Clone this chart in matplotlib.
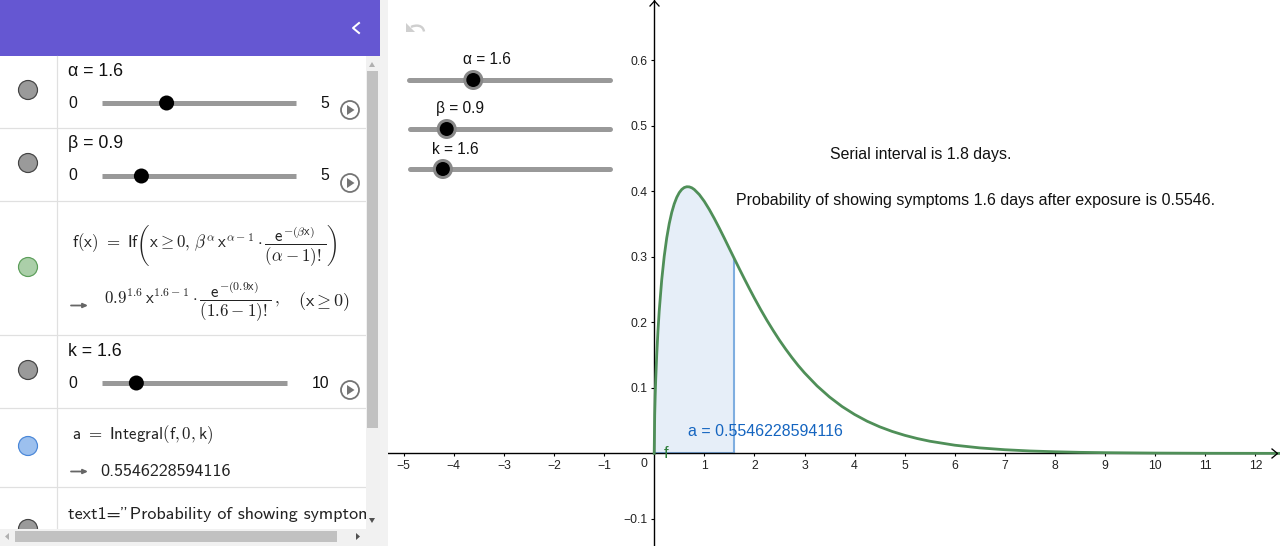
import matplotlib
matplotlib.use("Agg")
import matplotlib.pyplot as plt
from matplotlib.patches import Circle, Polygon, Rectangle, PathPatch
from matplotlib.path import Path

plt.rcParams['font.family'] = ['Liberation Sans', 'DejaVu Sans']
plt.rcParams['mathtext.fontset'] = 'cm'

# ---- data ----
curve_x = [0, .01, .02, .03, .05, .075, .1, .15, .2, .25, .3, .35, .4, .45, .5, .55, .6, .65, .7, .75, .8, .9, 1,
           1.1, 1.2, 1.3, 1.4, 1.5, 1.6, 1.7, 1.8, 1.9, 2, 2.125, 2.25, 2.375, 2.5, 2.625, 2.75, 2.875, 3,
           3.25, 3.5, 3.75, 4, 4.25, 4.5, 4.75, 5, 5.25, 5.5, 6, 6.5, 7, 7.5, 8, 8.5, 9, 10, 11, 12, 12.5]
curve_y = [0, .0591, .0888, .1123, .1498, .1868, .2171, .2647, .3007, .3287, .3505, .3676, .3807, .3906, .3978,
           .4027, .4056, .4068, .4066, .4052, .4026, .3949, .3845, .3721, .3583, .3436, .3283, .3126, .2970,
           .2815, .2663, .2514, .2369, .2195, .2030, .1875, .1727, .1590, .1461, .1340, .1229, .1030, .0860,
           .0715, .0594, .0491, .0406, .0335, .0276, .0227, .0186, .0125, .0084, .0056, .0037, .0025, .0016,
           .0011, .0005, .0002, .0001, .00005]
area_x = curve_x[:29]
area_y = curve_y[:29]
x_ticks = [-5, -4, -3, -2, -1, 1, 2, 3, 4, 5, 6, 7, 8, 9, 10, 11, 12]
y_ticks = [-0.1, 0.1, 0.2, 0.3, 0.4, 0.5, 0.6]
alpha_val, beta_val, k_val = 1.6, 0.9, 1.6
alpha_max, beta_max, k_max = 5, 5, 10
note_serial = "Serial interval is 1.8 days."
note_prob = "Probability of showing symptoms 1.6 days after exposure is 0.5546."
area_label = "a = 0.5546228594116"
integral_value = "0.5546228594116"
text_row = 'text1="Probability of showing symptoms'

W, H = 1280, 546
fig = plt.figure(figsize=(W / 100, H / 100), dpi=100, facecolor='white')

# ---- graphics view ----
X0, UX, Y0, UY = 654.2, 50.1, 453.4, 655.5
LEFT = 388
ax = fig.add_axes([LEFT / W, 0, (W - LEFT) / W, 1])
ax.set_xlim((LEFT - X0) / UX, (W - X0) / UX)
ax.set_ylim((Y0 - H) / UY, Y0 / UY)
for s in ('top', 'right'):
    ax.spines[s].set_visible(False)
for s in ('left', 'bottom'):
    ax.spines[s].set_position(('data', 0))
    ax.spines[s].set_linewidth(1.0)
ax.set_xticks(x_ticks)
ax.set_xticklabels([str(v).replace('-', '\u2212') for v in x_ticks])
ax.set_yticks(y_ticks)
ax.set_yticklabels([f'{v:.1f}'.replace('-', '\u2212') for v in y_ticks])
ax.tick_params(length=2.5, width=0.8, labelsize=8.8, labelcolor='#222222', pad=2.5)
ax.fill_between(area_x, area_y, 0, color='#E6EEF8', lw=0, zorder=1)
ax.plot(area_x[-1:] * 2, [0, area_y[-1]], color='#7FAEE0', lw=1.5, zorder=2)
ax.plot(area_x, [0] * len(area_x), color='#7FAEE0', lw=1.5, zorder=2)
ax.plot(curve_x, curve_y, color='#4F8F58', lw=2.0, zorder=3, solid_joinstyle='round')
ax.text(0.68, 0.033, area_label, color='#1565C0', fontsize=11.5, va='center', ha='left', zorder=4)
ax.text(0.2, -0.0005, 'f', color='#2E7D3A', fontsize=12, va='center', ha='left', zorder=4)
ax.text(3.5, 0.4555, note_serial, fontsize=11.45, va='center', ha='left', color='#111111')
ax.text(1.63, 0.3855, note_prob, fontsize=11.54, va='center', ha='left', color='#111111')
ax.text(-0.13, -0.0165, '0', fontsize=8.8, color='#222222', ha='right', va='center')

# ---- pixel overlay for the surrounding interface ----
ui = fig.add_axes([0, 0, 1, 1], facecolor='none')
ui.set_xlim(0, W)
ui.set_ylim(H, 0)
ui.axis('off')

def px(v):
    return v * 0.72

# axis arrows
ui.plot([650, 654.5, 659], [6, 1, 6], color='black', lw=px(1.3), clip_on=False)
ui.plot([1272, 1277.5, 1272], [449, 453.5, 458], color='black', lw=px(1.3))

def g_slider(y, x0, x1, kx0, kx1, frac, label, lx, ly):
    ui.plot([x0, x1], [y, y], color='#999999', lw=px(5), solid_capstyle='round', zorder=5)
    kx = kx0 + (kx1 - kx0) * frac
    ui.add_patch(Circle((kx, y), 10, fc='#888888', ec='none', zorder=6))
    ui.add_patch(Circle((kx, y), 7, fc='black', ec='none', zorder=7))
    ui.text(lx, ly, label, fontsize=11.2, ha='center', va='center', color='#111111', zorder=7)

g_slider(80, 409, 609.5, 412.5, 602.5, alpha_val / alpha_max, f'\u03b1 = {alpha_val}', 487, 59)
g_slider(129, 410, 610, 412.5, 602.5, beta_val / beta_max, f'\u03b2 = {beta_val}', 460, 108.5)
g_slider(169, 410, 610, 412.5, 602.5, k_val / k_max, f'k = {k_val}', 455, 149)

# undo icon
undo = Path([(424, 31.5), (423, 25), (416, 24.5), (411, 27)],
            [Path.MOVETO, Path.CURVE4, Path.CURVE4, Path.CURVE4])
ui.add_patch(PathPatch(undo, fc='none', ec='#CFCFCF', lw=px(2.4), zorder=5))
ui.add_patch(Polygon([(406, 23), (406, 32), (415, 32)], fc='#CFCFCF', ec='none', zorder=5))

# sidebar background
ui.add_patch(Rectangle((0, 0), 380, H, fc='white', ec='none', zorder=10))
ui.add_patch(Rectangle((380, 0), 8, H, fc='#F2F2F2', ec='none', zorder=10))
ui.add_patch(Rectangle((0, 0), 380, 56, fc='#6557D2', ec='none', zorder=11))
ui.plot([359, 353, 359], [23, 28, 33], color='white', lw=px(2.0), zorder=12)

for y in [128, 201, 335, 408, 487]:
    ui.plot([0, 366], [y, y], color='#E0E0E0', lw=px(1.2), zorder=11)
ui.plot([56.5, 56.5], [56, 529], color='#E0E0E0', lw=px(1.2), zorder=11)

# visibility markers
for y, fc, ec in [(90, '#9A9A9A', '#444444'), (163, '#9A9A9A', '#444444'),
                  (267, '#ABCFA9', '#5C9E5A'), (370, '#9A9A9A', '#444444'),
                  (446, '#9CC0EE', '#4A87D8'), (529, '#9A9A9A', '#444444')]:
    ui.add_patch(Circle((28, y), 9.5, fc=fc, ec=ec, lw=px(1.2), zorder=12))

def p_slider(y, x0, x1, kx0, kx1, frac, label, top, hi, play_y):
    ui.text(68, y - 32, label, fontsize=12.8, ha='left', va='center', color='#111111', zorder=13)
    ui.text(68, y, '0', fontsize=11.3, ha='left', va='center', color='#111111', zorder=13)
    ui.text(top, y, str(hi), fontsize=11.3, ha='center', va='center', color='#111111', zorder=13)
    ui.plot([x0, x1], [y, y], color='#999999', lw=px(5), solid_capstyle='butt', zorder=12)
    ui.add_patch(Circle((kx0 + (kx1 - kx0) * frac, y), 7.5, fc='black', ec='none', zorder=13))
    ui.add_patch(Circle((350, play_y), 9, fc='white', ec='#757575', lw=px(1.8), zorder=13))
    ui.add_patch(Polygon([(347, play_y - 5), (347, play_y + 5), (354.5, play_y)],
                         fc='#757575', ec='none', zorder=14))

p_slider(103, 102, 296, 109, 289, alpha_val / alpha_max, f'\u03b1 = {alpha_val}', 325, alpha_max, 110)
p_slider(176, 102, 296, 109, 289, beta_val / beta_max, f'\u03b2 = {beta_val}', 325, beta_max, 183)
p_slider(383, 102, 287, 109, 280, k_val / k_max, f'k = {k_val}', 321, k_max, 390)

# formula rows
formula1 = (r'$\mathsf{f(x)}\ =\ \mathsf{If}\left(\mathsf{x}\geq 0,\,\beta^{\alpha}\,\mathsf{x}^{\alpha-1}'
            r'\cdot\dfrac{\mathsf{e}^{-(\beta\mathsf{x})}}{(\alpha-1)!}\right)$')
formula2 = (r'$0.9^{1.6}\,\mathsf{x}^{1.6-1}\cdot\dfrac{\mathsf{e}^{-(0.9\mathsf{x})}}{(1.6-1)!}\,,$')
ui.text(72, 245, formula1, fontsize=12.2, ha='left', va='center', color='#222222', zorder=13)
ui.text(104, 302, formula2, fontsize=12.2, ha='left', va='center', color='#222222', zorder=13)
ui.text(298, 302, r'$(\mathsf{x}\geq 0)$', fontsize=13, ha='left', va='center', color='#222222', zorder=13)
ui.text(72, 435, r'$\mathsf{a}\ =\ \mathsf{Integral(f,0,k)}$', fontsize=12.2, ha='left', va='center',
        color='#222222', zorder=13)
ui.text(100, 471, integral_value, family='cmss10', fontsize=13, ha='left', va='center',
        color='#222222', zorder=13)
for y in [305.5, 471.5]:
    ui.annotate('', xy=(88, y), xytext=(71, y), zorder=13,
                arrowprops=dict(arrowstyle='-|>,head_width=0.13,head_length=0.28', color='#666666', lw=1.3,
                                shrinkA=0, shrinkB=0))
t = ui.text(68, 513, text_row, family='cmss10', fontsize=13, ha='left', va='center_baseline',
            color='#222222', zorder=13)
t.set_clip_path(Rectangle((0, 490), 366, 40, transform=ui.transData))
t.set_clip_on(True)

# scrollbars
ui.add_patch(Rectangle((366, 56), 14, 473, fc='#F1F1F1', ec='none', zorder=15))
ui.add_patch(Rectangle((367, 71), 11, 357, fc='#C1C1C1', ec='none', zorder=16))
ui.add_patch(Polygon([(369, 67), (375, 67), (372, 62)], fc='#B0B0B0', ec='none', zorder=16))
ui.add_patch(Polygon([(369, 518), (375, 518), (372, 523)], fc='#505050', ec='none', zorder=16))
ui.add_patch(Rectangle((0, 529), 380, 17, fc='#F1F1F1', ec='none', zorder=15))
ui.add_patch(Rectangle((15, 531), 322, 11, fc='#C1C1C1', ec='none', zorder=16))
ui.add_patch(Polygon([(9, 533), (9, 540), (5, 536.5)], fc='#B0B0B0', ec='none', zorder=16))
ui.add_patch(Polygon([(356, 533), (356, 540), (360, 536.5)], fc='#505050', ec='none', zorder=16))

fig.savefig('out.png', dpi=100, facecolor='white')
